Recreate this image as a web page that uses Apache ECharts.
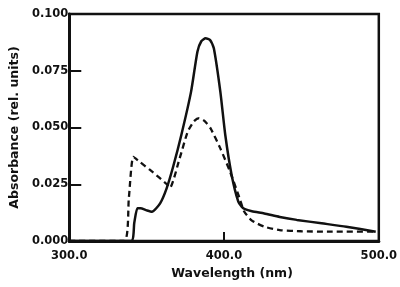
<!DOCTYPE html>
<html>
<head>
<meta charset="utf-8">
<script src="https://cdn.jsdelivr.net/npm/echarts@6/dist/echarts.min.js"></script>
<style>
  html, body { margin: 0; padding: 0; background: #fff; }
  #main { width: 400px; height: 287px; }
</style>
</head>
<body>
<div id="main"></div>
<script>
// wavelength (nm) / absorbance pairs
var solidWl  = [300, 340, 342, 344, 346, 350, 353.4, 358.7, 362.9, 367.1, 372.4, 378.7, 382.8, 385.3, 388.1, 391, 393.4, 397.6, 400.8, 404.9, 409.2, 411.5, 413.5, 418, 426, 436, 447, 463, 479, 498];
var solidAbs = [0, 0, 0.008, 0.0144, 0.0144, 0.0135, 0.0129, 0.0166, 0.0232, 0.0327, 0.0467, 0.0658, 0.0834, 0.0880, 0.0893, 0.0885, 0.0849, 0.0658, 0.0467, 0.0291, 0.0173, 0.0150, 0.0140, 0.0131, 0.0121, 0.0106, 0.0093, 0.0078, 0.0063, 0.0041];

var dashWl  = [300, 335.5, 338.5, 341.4, 346, 352, 358, 363.5, 365, 371.3, 376.5, 380.5, 383.9, 387.5, 391.3, 397.6, 403.9, 410.2, 413, 418, 426, 436, 450, 468, 498];
var dashAbs = [0, 0, 0.019, 0.0371, 0.0346, 0.0314, 0.0280, 0.0247, 0.0234, 0.0364, 0.0481, 0.0527, 0.0541, 0.0528, 0.0496, 0.0408, 0.0305, 0.0185, 0.0130, 0.0090, 0.0063, 0.0048, 0.0043, 0.0041, 0.0041];

var xTicks = [300, 400, 500];

function pairs(xs, ys) {
    return xs.map(function (x, i) { return [x, ys[i]]; });
}

var myChart = echarts.init(document.getElementById('main'));
var font = 'DejaVu Sans';

var option = {
    backgroundColor: '#fff',
    animation: false,
    grid: {
        left: 67, right: 16, top: 14, bottom: 46,
        show: true,
        borderColor: '#111',
        borderWidth: 2.5
    },
    xAxis: {
        type: 'value',
        min: 300, max: 500, interval: 100,
        name: 'Wavelength (nm)',
        nameLocation: 'middle',
        nameGap: 24,
        nameTextStyle: { color: '#111', fontFamily: font, fontWeight: 'bold', fontSize: 12.5, padding: [0, 0, 0, 16] },
        axisLine: { lineStyle: { color: '#111', width: 3 } },
        axisTick: { inside: true, length: 9, lineStyle: { color: '#111', width: 2 } },
        axisLabel: {
            color: '#111', fontFamily: font, fontWeight: 'bold', fontSize: 11.5, margin: 9,
            formatter: function (v) { return xTicks.indexOf(v) >= 0 ? v.toFixed(1) : ''; }
        },
        splitLine: { show: false }
    },
    yAxis: {
        type: 'value',
        min: 0, max: 0.1, interval: 0.025,
        name: 'Absorbance (rel. units)',
        nameLocation: 'middle',
        nameGap: 37,
        nameRotate: 90,
        nameTextStyle: { color: '#111', fontFamily: font, fontWeight: 'bold', fontSize: 12.5 },
        axisLine: { lineStyle: { color: '#111', width: 3 } },
        axisTick: { inside: true, length: 12, lineStyle: { color: '#111', width: 2 } },
        axisLabel: {
            color: '#111', fontFamily: font, fontWeight: 'bold', fontSize: 11.5, margin: 1,
            formatter: function (v) { return v.toFixed(3); }
        },
        splitLine: { show: false }
    },
    series: [
        {
            name: 'solid',
            type: 'line',
            data: pairs(solidWl, solidAbs),
            smooth: 0.2,
            symbol: 'none',
            lineStyle: { color: '#111', width: 2.5 }
        },
        {
            name: 'dashed',
            type: 'line',
            data: pairs(dashWl, dashAbs),
            smooth: 0.2,
            symbol: 'none',
            lineStyle: { color: '#111', width: 2.3, type: [6, 4] }
        }
    ]
};
myChart.setOption(option);
</script>
</body>
</html>
